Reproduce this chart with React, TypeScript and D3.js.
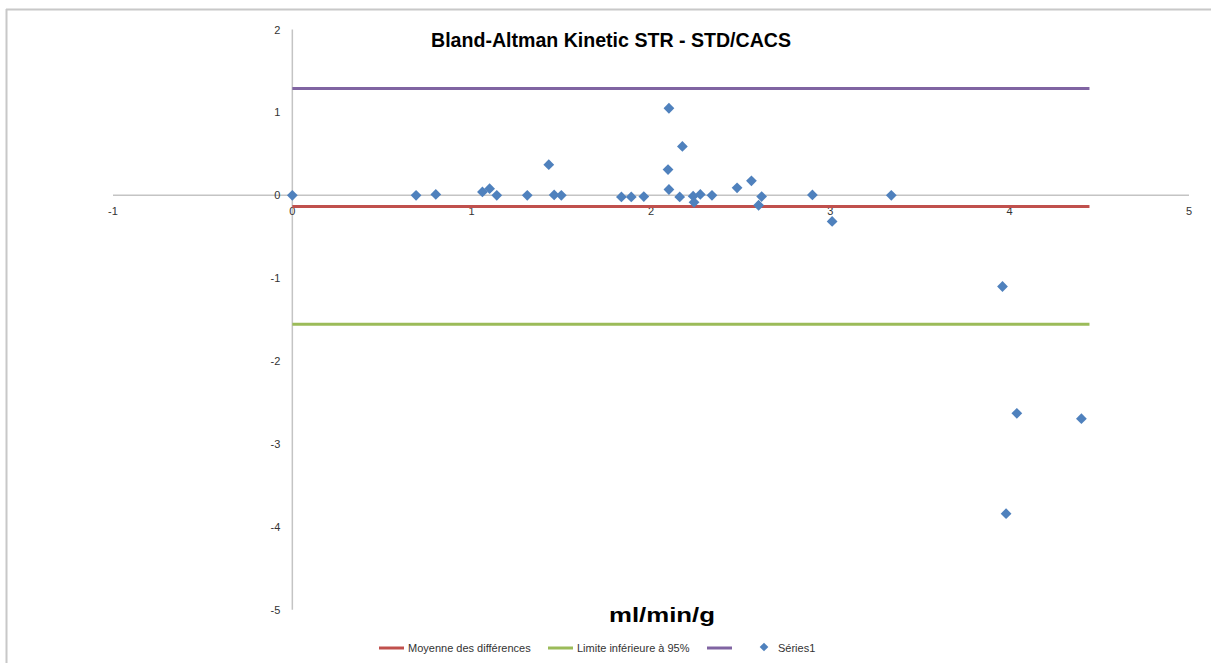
import { useEffect, useRef } from "react";
import * as d3 from "d3";

// Bland-Altman data: mean of measures (x) vs difference (y)
const meanValues = [
  0, 0.69, 0.8, 1.06, 1.1, 1.14, 1.31, 1.43, 1.46, 1.5, 1.835, 1.89, 1.96,
  2.1, 2.095, 2.1, 2.175, 2.16, 2.235, 2.24, 2.275, 2.34, 2.48, 2.56, 2.617,
  2.6, 2.9, 3.01, 3.34, 3.96, 4.04, 3.98, 4.4,
];
const diffValues = [
  0, 0, 0.01, 0.04, 0.08, 0, 0, 0.37, 0.005, 0, -0.02, -0.02, -0.015, 1.05,
  0.31, 0.07, 0.59, -0.02, -0.01, -0.085, 0.01, 0, 0.09, 0.175, -0.015,
  -0.12, 0.005, -0.315, 0, -1.1, -2.63, -3.84, -2.695,
];

const meanDiff = -0.134;
const upperLimit = 1.288;
const lowerLimit = -1.554;
const lineStart = 0;
const lineEnd = 4.445;

const xTicks = [-1, 0, 1, 2, 3, 4, 5];
const yTicks = [2, 1, 0, -1, -2, -3, -4, -5];

const legendItems = [
  { label: "Moyenne des différences", color: "#c0504d", type: "line" },
  { label: "Limite inférieure à 95%", color: "#9bbb59", type: "line" },
  { label: "", color: "#8064a2", type: "line" },
  { label: "Séries1", color: "#4f81bd", type: "marker" },
];

export default function App() {
  const svgRef = useRef<SVGSVGElement>(null);

  useEffect(() => {
    if (!svgRef.current) return;
    const svg = d3.select(svgRef.current);
    svg.selectAll("*").remove();

    const font = "'Liberation Sans', Arial, sans-serif";

    // outer frame (top and left edges visible)
    svg
      .append("line")
      .attr("x1", 6)
      .attr("x2", 1211)
      .attr("y1", 9.5)
      .attr("y2", 9.5)
      .attr("stroke", "#c8c8c8")
      .attr("stroke-width", 2);
    svg
      .append("line")
      .attr("x1", 6.5)
      .attr("x2", 6.5)
      .attr("y1", 9)
      .attr("y2", 663)
      .attr("stroke", "#c8c8c8")
      .attr("stroke-width", 2);

    const x = d3.scaleLinear().domain([-1, 5]).range([113, 1189]);
    const y = d3.scaleLinear().domain([2, -5]).range([29.5, 609.8]);

    // axes lines
    svg
      .append("line")
      .attr("x1", x(-1))
      .attr("x2", x(5))
      .attr("y1", y(0))
      .attr("y2", y(0))
      .attr("stroke", "#c4c4c4")
      .attr("stroke-width", 1.5);
    svg
      .append("line")
      .attr("x1", x(0))
      .attr("x2", x(0))
      .attr("y1", y(2))
      .attr("y2", y(-5))
      .attr("stroke", "#c4c4c4")
      .attr("stroke-width", 1.5);

    // tick labels
    svg
      .append("g")
      .selectAll("text")
      .data(xTicks)
      .enter()
      .append("text")
      .attr("x", (d) => x(d))
      .attr("y", y(0) + 20)
      .attr("text-anchor", "middle")
      .style("font-family", font)
      .style("font-size", "11px")
      .attr("fill", "#333")
      .text((d) => String(d));

    svg
      .append("g")
      .selectAll("text")
      .data(yTicks)
      .enter()
      .append("text")
      .attr("x", x(0) - 12)
      .attr("y", (d) => y(d) + 4)
      .attr("text-anchor", "end")
      .style("font-family", font)
      .style("font-size", "11px")
      .attr("fill", "#333")
      .text((d) => String(d));

    // reference lines
    const refLines = [
      { v: meanDiff, color: "#c0504d" },
      { v: lowerLimit, color: "#9bbb59" },
      { v: upperLimit, color: "#8064a2" },
    ];
    svg
      .append("g")
      .selectAll("line")
      .data(refLines)
      .enter()
      .append("line")
      .attr("x1", x(lineStart))
      .attr("x2", x(lineEnd))
      .attr("y1", (d) => y(d.v))
      .attr("y2", (d) => y(d.v))
      .attr("stroke", (d) => d.color)
      .attr("stroke-width", 3);

    // points
    const diamond = d3.symbol().type(d3.symbolDiamond2).size(74);
    svg
      .append("g")
      .selectAll("path")
      .data(meanValues.map((m, i) => [m, diffValues[i]]))
      .enter()
      .append("path")
      .attr("d", diamond)
      .attr("transform", (d) => `translate(${x(d[0])},${y(d[1])})`)
      .attr("fill", "#4f81bd");

    // title
    svg
      .append("text")
      .attr("x", 611)
      .attr("y", 47)
      .attr("text-anchor", "middle")
      .attr("textLength", 360)
      .attr("lengthAdjust", "spacingAndGlyphs")
      .style("font-family", font)
      .style("font-size", "20px")
      .style("font-weight", "bold")
      .attr("fill", "#000")
      .text("Bland-Altman Kinetic STR - STD/CACS");

    // x axis title
    svg
      .append("text")
      .attr("x", 662)
      .attr("y", 622)
      .attr("text-anchor", "middle")
      .attr("textLength", 106)
      .attr("lengthAdjust", "spacingAndGlyphs")
      .style("font-family", font)
      .style("font-size", "20px")
      .style("font-weight", "bold")
      .attr("fill", "#000")
      .text("ml/min/g");

    // legend
    const legendX = [379, 548, 707, 764];
    const legendY = 648;
    const lg = svg.append("g");
    legendItems.forEach((item, i) => {
      const lx = legendX[i];
      if (item.type === "line") {
        lg.append("line")
          .attr("x1", lx)
          .attr("x2", lx + 25)
          .attr("y1", legendY)
          .attr("y2", legendY)
          .attr("stroke", item.color)
          .attr("stroke-width", 3);
        if (item.label)
          lg.append("text")
            .attr("x", lx + 29)
            .attr("y", legendY + 4)
            .style("font-family", font)
            .style("font-size", "11px")
            .attr("fill", "#333")
            .text(item.label);
      } else {
        lg.append("path")
          .attr("d", d3.symbol().type(d3.symbolDiamond2).size(48)())
          .attr("transform", `translate(${lx},${legendY - 1})`)
          .attr("fill", item.color);
        lg.append("text")
          .attr("x", lx + 14)
          .attr("y", legendY + 4)
          .style("font-family", font)
          .style("font-size", "11px")
          .attr("fill", "#333")
          .text(item.label);
      }
    });
  }, []);

  return (
    <div style={{ position: "absolute", left: 0, top: 0 }}>
      <svg ref={svgRef} width={1211} height={663} style={{ display: "block" }}></svg>
    </div>
  );
}
